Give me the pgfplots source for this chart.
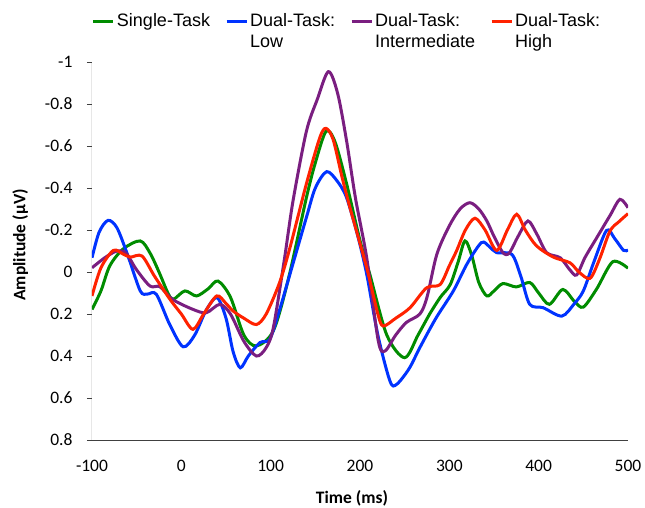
\documentclass[border=0pt]{standalone}
\usepackage{pgfplots}
\pgfplotsset{compat=1.18}
\usepackage{fontspec}
\setmainfont{Carlito}
\newfontfamily\arialfont{Liberation Sans}
\definecolor{cgreen}{RGB}{0,140,0}
\definecolor{cblue}{RGB}{0,51,255}
\definecolor{cpurple}{RGB}{122,30,128}
\definecolor{cred}{RGB}{255,34,0}
\definecolor{axgray}{RGB}{64,64,64}
\begin{document}
\begin{tikzpicture}
\useasboundingbox (-92pt,-67pt) rectangle (553pt,440pt);
\begin{axis}[
  scale only axis, width=536pt, height=378pt,
  xmin=-100, xmax=500, ymin=-1, ymax=0.8, y dir=reverse,
  axis line style={draw=none},
  xtick={-100,0,100,200,300,400,500},
  xticklabels={-100,0,100,200,300,400,500},
  ytick={-1,-0.8,-0.6,-0.4,-0.2,0,0.2,0.4,0.6,0.8},
  yticklabels={-1,-0.8,-0.6,-0.4,-0.2,0,0.2,0.4,0.6,0.8},
  ytick pos=left, tick align=outside, major tick length=5pt,
  xtick style={draw=none},
  ytick style={axgray, line width=1pt},
  tick label style={font=\fontsize{17.5}{20}\selectfont},
  xticklabel style={yshift=-12pt},
  yticklabel style={xshift=-11pt},
  xlabel={\textbf{Time (ms)}},
  ylabel={\textbf{Amplitude (μV)}},
  label style={font=\fontsize{17.5}{20}\selectfont},
  xlabel style={at={(axis description cs:0.485,-0.153)}, anchor=center},
  ylabel style={at={(axis description cs:-0.134,0.516)}, anchor=center},
  legend columns=4,
  legend style={draw=none, fill=none, at={(axis description cs:-0.006,1.14)}, anchor=north west,
    font=\arialfont\fontsize{18}{21}\selectfont,
    /tikz/every even column/.append style={column sep=13pt},
    cells={align=left}, nodes={inner sep=2pt}},
  legend image code/.code={\draw[#1] (0pt,10pt) -- (20pt,10pt);},
  every axis plot/.append style={line width=3pt, smooth, tension=0.5},
]
\draw[axgray, line width=1pt] (axis description cs:0,1) -- (axis description cs:0,0) -- (axis description cs:1,0);
\addplot[cgreen] coordinates {
(-100,0.178) (-90,0.09) (-80,-0.03) (-65,-0.11) (-46,-0.148) (-35,-0.09) (-25,0.0) (-15,0.10) (-9,0.13) (4,0.09) (17,0.114) (30,0.08) (41,0.043) (55,0.12) (70,0.30) (84,0.352) (103,0.28) (120,0.03) (140,-0.354) (150,-0.52) (162,-0.67) (172,-0.62) (185,-0.42) (200,-0.15) (211,0.011) (230,0.30) (250,0.408) (265,0.30) (278,0.20) (290,0.12) (301,0.06) (310,-0.05) (317.5,-0.148) (325,-0.08) (333,0.05) (342,0.114) (350,0.09) (360,0.055) (375,0.071) (390,0.05) (400,0.10) (412,0.154) (427,0.083) (440,0.14) (450,0.167) (465,0.08) (483,-0.049) (500,-0.018)
};
\addlegendentry{Single-Task\\\phantom{L}}
\addplot[cblue] coordinates {
(-100,-0.068) (-92,-0.19) (-82,-0.246) (-72,-0.21) (-60,-0.08) (-46,0.09) (-38,0.105) (-28,0.106) (-13,0.25) (2,0.356) (15,0.30) (28,0.18) (40,0.122) (50,0.22) (58,0.38) (66,0.456) (75,0.40) (88,0.336) (99,0.32) (110,0.18) (121.6,0.01) (140,-0.26) (150,-0.40) (162.7,-0.478) (175,-0.43) (185,-0.354) (197,-0.18) (207.5,0.01) (220,0.30) (233.6,0.52) (241,0.535) (255,0.46) (267,0.36) (285,0.22) (304.5,0.09) (320,-0.04) (336,-0.14) (345,-0.12) (353,-0.092) (370,-0.084) (380,0.02) (390,0.154) (405,0.17) (426,0.21) (440,0.15) (450,0.09) (462,-0.05) (476,-0.198) (485,-0.16) (495,-0.103) (500,-0.105)
};
\addlegendentry{Dual-Task:\\Low}
\addplot[cpurple] coordinates {
(-100,-0.02) (-85,-0.07) (-72,-0.1) (-62,-0.09) (-50,-0.01) (-35,0.067) (-24,0.07) (-10,0.13) (13,0.178) (28,0.194) (43,0.154) (55,0.20) (70,0.33) (84,0.40) (95,0.36) (103,0.265) (115,-0.05) (125,-0.338) (140,-0.67) (152,-0.82) (164.6,-0.954) (175,-0.85) (185,-0.624) (195,-0.35) (207.5,-0.068) (220.5,0.329) (228,0.376) (240,0.30) (252,0.24) (267,0.20) (275,0.12) (286,-0.084) (300,-0.22) (312,-0.30) (323,-0.33) (333,-0.30) (342,-0.243) (350,-0.17) (360,-0.092) (367,-0.09) (377,-0.17) (388,-0.243) (398,-0.18) (409,-0.092) (424,-0.068) (435,-0.01) (442.5,0.014) (452,-0.07) (465,-0.163) (480,-0.27) (491,-0.346) (500,-0.306)
};
\addlegendentry{Dual-Task:\\Intermediate}
\addplot[cred] coordinates {
(-100,0.114) (-90,-0.02) (-76,-0.103) (-65,-0.085) (-57,-0.071) (-44,-0.076) (-30,0.02) (-12.7,0.13) (0,0.2) (13,0.273) (25,0.20) (39.6,0.114) (50,0.15) (58,0.186) (70,0.22) (84,0.25) (95,0.20) (110,0.05) (121.6,-0.116) (140,-0.42) (155,-0.64) (162,-0.684) (170,-0.63) (180,-0.45) (188.8,-0.306) (207.5,-0.02) (220,0.20) (226,0.257) (240,0.22) (256,0.17) (274.6,0.075) (289.6,0.06) (300,-0.03) (308,-0.10) (318,-0.20) (328.7,-0.256) (340,-0.2) (353,-0.103) (365,-0.2) (375.4,-0.275) (385,-0.2) (397.7,-0.124) (416.4,-0.071) (435,-0.044) (445,0.00) (457.5,0.03) (468,-0.06) (479.8,-0.195) (490,-0.24) (500,-0.278)
};
\addlegendentry{Dual-Task:\\High}
\end{axis}
\end{tikzpicture}
\end{document}
